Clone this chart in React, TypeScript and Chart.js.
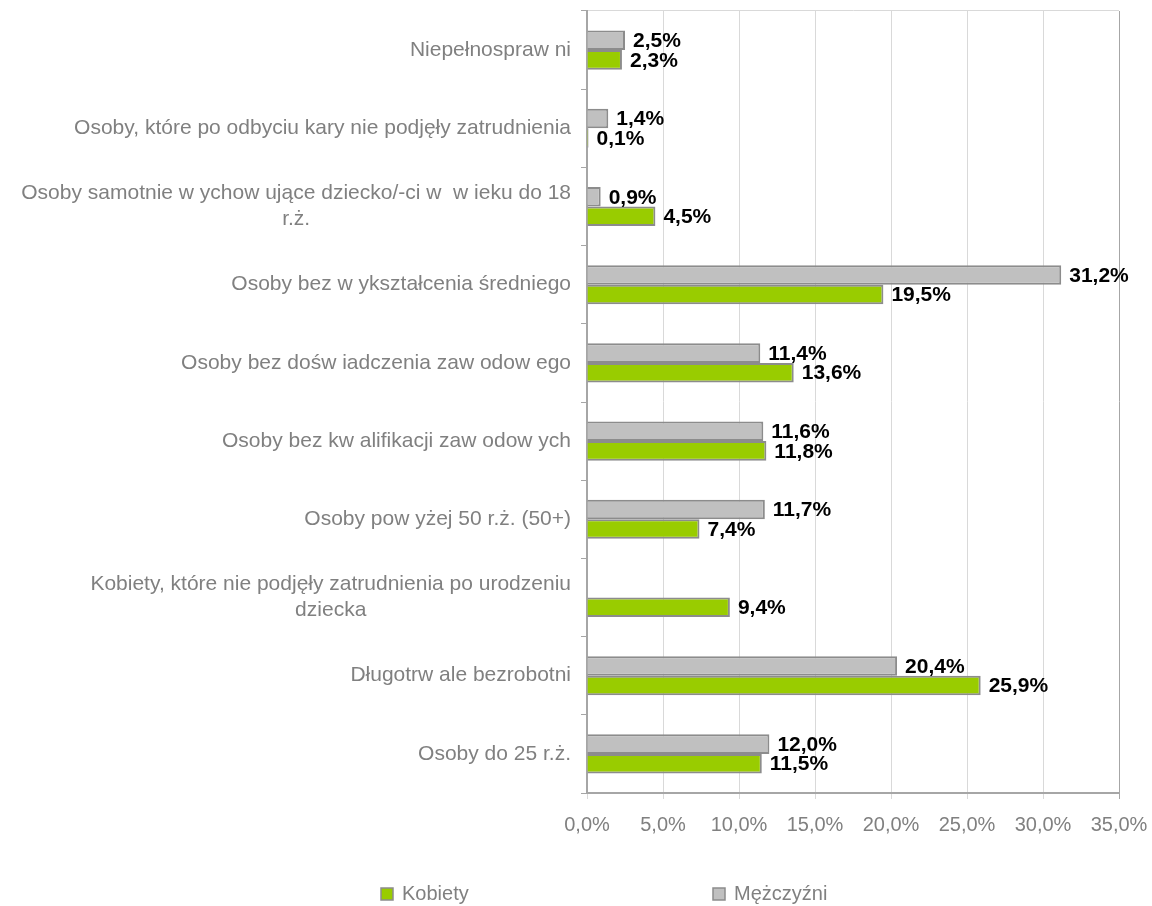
import React, { useEffect, useRef } from "react";
import { Chart, registerables } from "chart.js";

Chart.register(...registerables);

const categories: (string | string[])[] = [
  "Niepełnospraw ni",
  "Osoby, które po odbyciu kary nie podjęły zatrudnienia",
  ["Osoby samotnie w ychow ujące dziecko/-ci w  w ieku do 18", "r.ż."],
  "Osoby bez w ykształcenia średniego",
  "Osoby bez dośw iadczenia zaw odow ego",
  "Osoby bez kw alifikacji zaw odow ych",
  "Osoby pow yżej 50 r.ż. (50+)",
  ["Kobiety, które nie podjęły zatrudnienia po urodzeniu", "dziecka"],
  "Długotrw ale bezrobotni",
  "Osoby do 25 r.ż.",
];

const menValues: (number | null)[] = [2.5, 1.4, 0.9, 31.2, 11.4, 11.6, 11.7, null, 20.4, 12.0];
const womenValues: (number | null)[] = [2.3, 0.1, 4.5, 19.5, 13.6, 11.8, 7.4, 9.4, 25.9, 11.5];

const menName = "Mężczyźni";
const womenName = "Kobiety";

const xTickValues = [0, 5, 10, 15, 20, 25, 30, 35];
const xMin = 0;
const xMax = 35;
const xStep = 5;

const FONT = '"Liberation Sans", Arial, sans-serif';
const GRAY_FILL = "#c0c0c0";
const GREEN_FILL = "#99cc00";
const BAR_BORDER = "#8c8c8c";
const TEXT_GRAY = "#808080";
const AXIS_GRAY = "#a6a6a6";
const GRID_GRAY = "#d9d9d9";

const fmt = (v: number) => v.toFixed(1).replace(".", ",") + "%";

const categoryLabelPlugin = {
  id: "categoryLabels",
  afterDraw(chart: any) {
    const ys = chart.scales.y;
    const ctx = chart.ctx as CanvasRenderingContext2D;
    ctx.save();
    ctx.font = `21px ${FONT}`;
    ctx.fillStyle = TEXT_GRAY;
    ctx.textAlign = "center";
    ctx.textBaseline = "middle";
    const right = chart.chartArea.left - 16;
    const lineH = 26;
    categories.forEach((lab, i) => {
      const lines = Array.isArray(lab) ? lab : [lab];
      const maxW = Math.max(...lines.map((l) => ctx.measureText(l).width));
      const cx = right - maxW / 2;
      const y = ys.getPixelForValue(i);
      const y0 = y - ((lines.length - 1) * lineH) / 2;
      lines.forEach((l, k) => ctx.fillText(l, cx, y0 + k * lineH));
    });
    ctx.restore();
  },
};

const xLabelPlugin = {
  id: "xLabels",
  afterDraw(chart: any) {
    const xs = chart.scales.x;
    const ctx = chart.ctx as CanvasRenderingContext2D;
    ctx.save();
    ctx.font = `20px ${FONT}`;
    ctx.fillStyle = TEXT_GRAY;
    ctx.textAlign = "center";
    ctx.textBaseline = "middle";
    const y = chart.chartArea.bottom + 32;
    xTickValues.forEach((v) => {
      ctx.fillText(fmt(v), xs.getPixelForValue(v), y);
    });
    ctx.restore();
  },
};

const valueLabelPlugin = {
  id: "valueLabels",
  afterDatasetsDraw(chart: any) {
    const ctx = chart.ctx as CanvasRenderingContext2D;
    ctx.save();
    ctx.font = `bold 21px ${FONT}`;
    ctx.fillStyle = "#000000";
    ctx.textAlign = "left";
    ctx.textBaseline = "middle";
    chart.data.datasets.forEach((ds: any, di: number) => {
      const meta = chart.getDatasetMeta(di);
      meta.data.forEach((el: any, i: number) => {
        const v = ds.data[i];
        if (v === null || v === undefined) return;
        ctx.fillText(fmt(v), el.x + 8, el.y + 1);
      });
    });
    ctx.restore();
  },
};

const legendPlugin = {
  id: "customLegend",
  afterDraw(chart: any) {
    const ctx = chart.ctx as CanvasRenderingContext2D;
    const items = [
      { name: womenName, color: GREEN_FILL, x: 381 },
      { name: menName, color: GRAY_FILL, x: 713 },
    ];
    ctx.save();
    ctx.font = `20px ${FONT}`;
    ctx.textBaseline = "middle";
    ctx.textAlign = "left";
    const y = 894;
    items.forEach((it) => {
      ctx.fillStyle = it.color;
      ctx.fillRect(it.x, y - 6, 12, 12);
      ctx.strokeStyle = BAR_BORDER;
      ctx.lineWidth = 1.5;
      ctx.strokeRect(it.x, y - 6, 12, 12);
      ctx.fillStyle = TEXT_GRAY;
      ctx.fillText(it.name, it.x + 21, y);
    });
    ctx.restore();
  },
};

export default function App() {
  const ref = useRef<HTMLCanvasElement | null>(null);

  useEffect(() => {
    if (!ref.current) return;
    const chart = new Chart(ref.current, {
      type: "bar",
      data: {
        labels: categories as any,
        datasets: [
          {
            label: menName,
            data: menValues as any,
            backgroundColor: GRAY_FILL,
            borderColor: BAR_BORDER,
            borderWidth: 2,
            categoryPercentage: 0.5,
            barPercentage: 1,
          },
          {
            label: womenName,
            data: womenValues as any,
            backgroundColor: GREEN_FILL,
            borderColor: BAR_BORDER,
            borderWidth: 2,
            categoryPercentage: 0.5,
            barPercentage: 1,
          },
        ],
      },
      options: {
        indexAxis: "y",
        animation: false,
        responsive: true,
        maintainAspectRatio: false,
        layout: { padding: { top: 11, right: 33, bottom: 73, left: 0 } },
        plugins: {
          legend: { display: false },
          tooltip: { enabled: false },
        },
        scales: {
          x: {
            min: xMin,
            max: xMax,
            ticks: {
              stepSize: xStep,
              display: false,
            },
            grid: {
              color: (c: any) => (c.index === (xMax - xMin) / xStep ? AXIS_GRAY : GRID_GRAY),
              tickLength: 6,
              lineWidth: 1,
            },
            border: { color: AXIS_GRAY, width: 2 },
            afterFit: (s: any) => {
              s.height = 40;
            },
          },
          y: {
            ticks: { display: false },
            grid: {
              offset: true,
              color: (c: any) => (c.index === 0 ? GRID_GRAY : "rgba(0,0,0,0)"),
              tickColor: AXIS_GRAY,
              tickLength: 6,
            },
            border: { color: AXIS_GRAY, width: 2 },
            afterFit: (s: any) => {
              s.width = 587;
            },
          },
        },
      },
      plugins: [categoryLabelPlugin, xLabelPlugin, valueLabelPlugin, legendPlugin],
    });
    return () => chart.destroy();
  }, []);

  return (
    <div style={{ position: "fixed", left: 0, top: 0, width: 1152, height: 906, background: "#fff" }}>
      <canvas ref={ref} />
    </div>
  );
}
